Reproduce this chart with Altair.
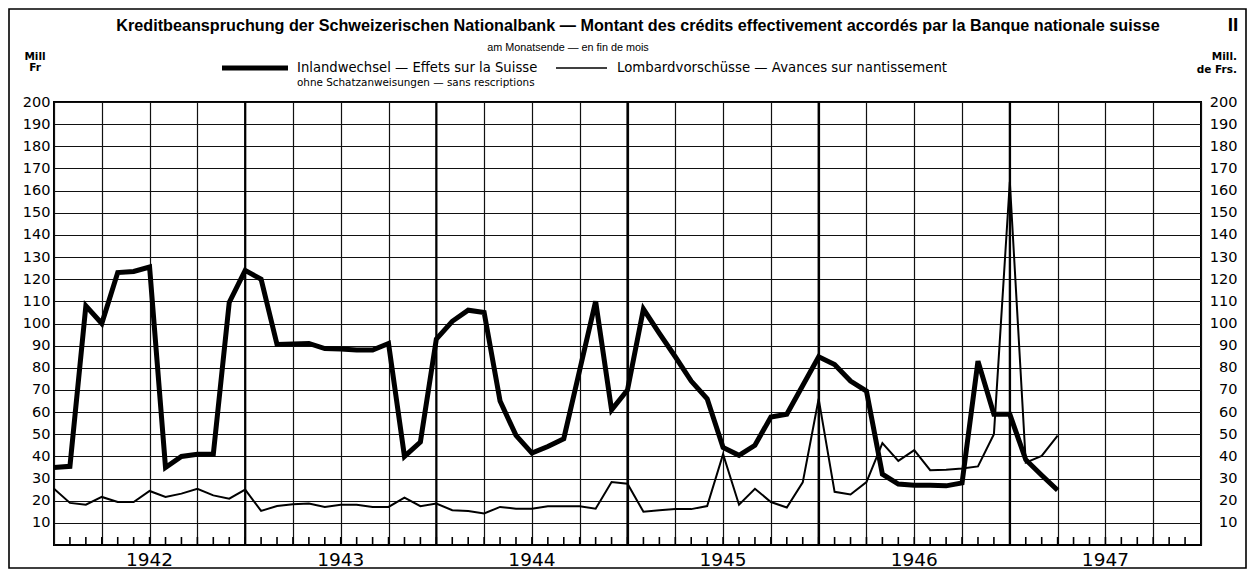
import altair as alt
import pandas as pd

# month index 0 = first month plotted (Jan 1942), values in Mill. Fr
months = list(range(64))
inland = [35, 35.5, 108, 100, 123, 123.5, 125.5, 35, 40, 41, 41, 109.5,
          124, 120, 90.5, 90.7, 91, 88.7, 88.5, 88, 88, 91, 40, 46.5,
          93, 101, 106, 105, 65, 49.5, 41.5, 44.5, 48, 79, 110, 61,
          70, 106.5, 95.5, 85, 74, 66, 44, 40.5, 45, 57.8, 59, 72,
          85, 81.5, 74, 69.5, 32, 27.5, 27, 27, 26.7, 28, 83, 59,
          59, 38.5, 31.5, 24.7]
lombard = [25.4, 19, 18.2, 21.7, 19.4, 19.4, 24.4, 21.7, 23.2, 25.4, 22.4, 20.9,
           25, 15.4, 17.6, 18.4, 18.7, 17.2, 18.2, 18.2, 17.2, 17.2, 21.4, 17.5,
           18.7, 15.7, 15.3, 14.2, 17.2, 16.4, 16.4, 17.5, 17.5, 17.5, 16.4, 28.4,
           27.7, 15, 15.7, 16.2, 16.2, 17.6, 41, 18.2, 25.4, 19.4, 16.9, 28.3,
           66, 24, 22.8, 28.4, 46, 38, 42.8, 33.8, 34, 34.5, 35.5, 50,
           164, 37.2, 40.2, 49.4]
years = ["1942", "1943", "1944", "1945", "1946", "1947"]
year_mid = [6, 18, 30, 42, 54, 66]
year_lines = [12, 24, 36, 48, 60]
quarter_lines = list(range(0, 73, 3))
tick_months = list(range(1, 72))
y_ticks = list(range(10, 201, 10))

W, H = 1147, 443
NUM_FONT = "DejaVu Sans"
TXT_FONT = "DejaVu Sans"

df = pd.DataFrame({"m": months, "inland": inland, "lombard": lombard})
xs = alt.Scale(domain=[0, 72], nice=False, zero=False)
ys = alt.Scale(domain=[0, 200], nice=False)

x_enc = alt.X("m:Q", scale=xs,
              axis=alt.Axis(values=quarter_lines, grid=True, labels=False, ticks=False,
                            domain=False, title=None, gridColor="#111", gridWidth=1.2,
                            gridOpacity=1))

thick = alt.Chart(df).mark_line(color="black", strokeWidth=5, strokeJoin="miter").encode(
    x=x_enc,
    y=alt.Y("inland:Q", scale=ys,
            axis=alt.Axis(orient="left", values=y_ticks, grid=True, ticks=False, tickSize=0,
                          domain=False, title=None, labelFont=NUM_FONT, labelFontSize=14.5,
                          labelColor="black", labelPadding=4, gridColor="#111",
                          gridWidth=1.2, gridOpacity=1)),
)

thin = alt.Chart(df).mark_line(color="black", strokeWidth=2).encode(
    x=alt.X("m:Q", scale=xs),
    y=alt.Y("lombard:Q", scale=ys,
            axis=alt.Axis(orient="right", values=y_ticks, grid=False, ticks=False, tickSize=0,
                          domain=False, title=None, labelFont=NUM_FONT, labelFontSize=14.5,
                          labelColor="black", labelPadding=36, labelAlign="right")),
)

yl = alt.Chart(pd.DataFrame({"m": year_lines})).mark_rule(color="black", strokeWidth=2.2).encode(
    x=alt.X("m:Q", scale=xs), y=alt.value(0), y2=alt.value(H))

tk = alt.Chart(pd.DataFrame({"m": tick_months})).mark_rule(color="black", strokeWidth=1.6).encode(
    x=alt.X("m:Q", scale=xs), y=alt.value(H - 8), y2=alt.value(H))

ylab = alt.Chart(pd.DataFrame({"m": year_mid, "t": years})).mark_text(
    font=NUM_FONT, fontSize=18.5, color="black", baseline="middle", align="center").encode(
    x=alt.X("m:Q", scale=xs), y=alt.value(H + 15), text="t:N")

one = pd.DataFrame({"a": [0]})


def txt(s, x, y, size, align="left", weight="normal", font=TXT_FONT, baseline="middle"):
    return alt.Chart(one).mark_text(text=s, font=font, fontSize=size, fontWeight=weight,
                                    align=align, baseline=baseline, color="black").encode(
        x=alt.value(x), y=alt.value(y))


def hrule(x1, x2, y, w):
    return alt.Chart(one).mark_rule(color="black", strokeWidth=w).encode(
        x=alt.value(x1), x2=alt.value(x2), y=alt.value(y))


frame = alt.Chart(one).mark_rect(fill=None, stroke="black", strokeWidth=1.6).encode(
    x=alt.value(-45), x2=alt.value(1192), y=alt.value(-93), y2=alt.value(466))

title = txt("Kreditbeanspruchung der Schweizerischen Nationalbank — Montant des crédits effectivement accordés par la Banque nationale suisse",
            584, -71, 16.2, align="center", weight="bold",
            font="Liberation Sans", baseline="alphabetic")
roman = txt("II", 1179, -71, 19, align="center", weight="bold", font="Liberation Sans",
            baseline="alphabetic")
sub = txt("am Monatsende — en fin de mois", 514, -54, 10.8, align="center", font="Liberation Sans")
leg1 = txt("Inlandwechsel — Effets sur la Suisse", 243, -34, 13.2)
leg2 = txt("Lombardvorschüsse — Avances sur nantissement", 563, -34, 13.3)
leg3 = txt("ohne Schatzanweisungen — sans rescriptions", 243, -19, 10.4)
l1 = hrule(168, 234, -34, 5)
l2 = hrule(502, 553, -34, 1.6)
mill_l1 = txt("Mill", -19, -45, 10.5, align="center", weight="bold")
mill_l2 = txt("Fr", -19, -34, 10.5, align="center", weight="bold")
mill_r1 = txt("Mill.", 1183, -45, 10.5, align="right", weight="bold")
mill_r2 = txt("de Frs.", 1183, -32, 10.5, align="right", weight="bold")

chart = alt.layer(
    thick, thin, yl, tk, ylab, frame, title, roman, sub, leg1, leg2, leg3, l1, l2,
    mill_l1, mill_l2, mill_r1, mill_r2
).resolve_scale(y="independent").properties(
    width=W, height=H,
    autosize=alt.AutoSizeParams(type="none"),
    padding={"left": 46, "top": 94, "right": 46, "bottom": 24},
    background="white",
).configure_view(stroke="black", strokeWidth=2)

chart.save("out.html", embed_options={"renderer": "svg", "actions": False})
